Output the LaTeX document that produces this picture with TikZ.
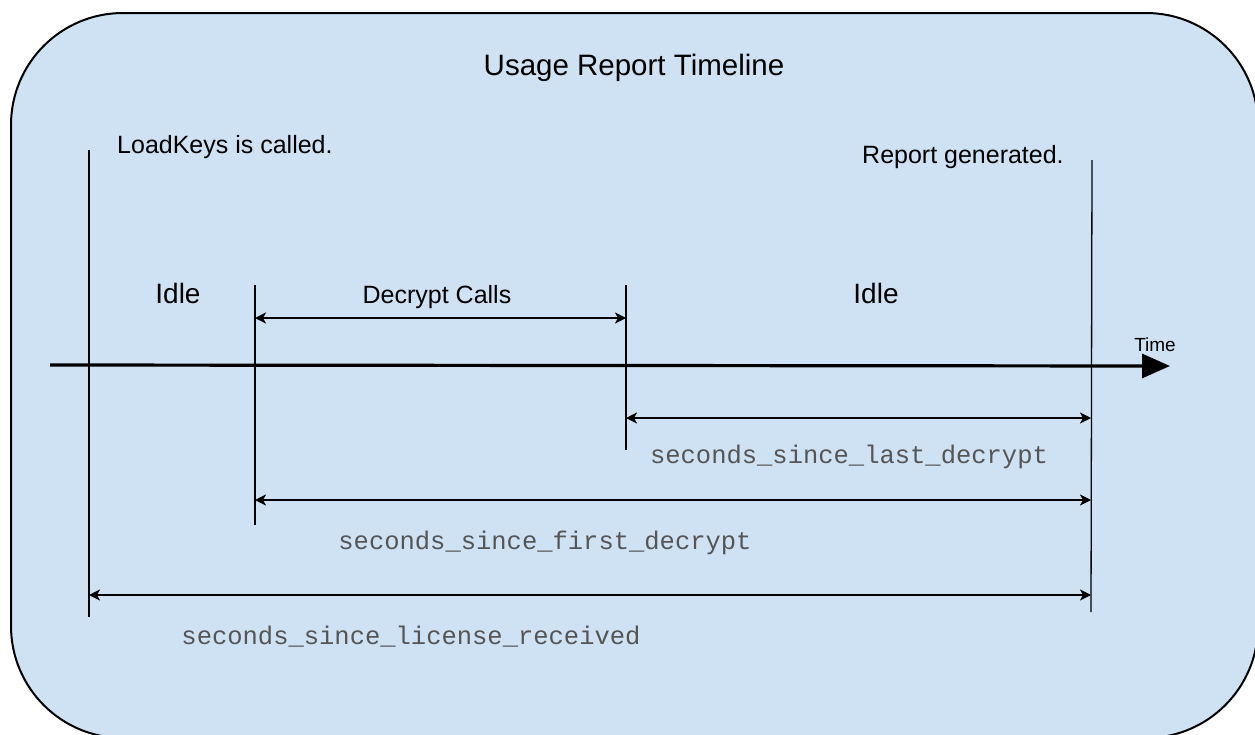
\documentclass[tikz,border=0pt]{standalone}
\usepackage{fontspec}
\setmainfont{Liberation Sans}
\setmonofont{Liberation Mono}
\usetikzlibrary{arrows.meta}
\definecolor{panelblue}{HTML}{CFE2F3}
\definecolor{labelgray}{HTML}{555555}
\tikzset{
  eventline/.style={line width=1.3pt},
  spanarrow/.style={line width=1.8pt,{Stealth[length=11pt,width=11pt,inset=3pt]}-{Stealth[length=11pt,width=11pt,inset=3pt]}},
  timeaxis/.style={line width=3.2pt,-{Triangle[length=28pt,width=24pt]}},
  evtext/.style={font=\fontsize{25}{30}\selectfont,inner sep=0pt},
  phasetext/.style={font=\fontsize{28}{32}\selectfont,inner sep=0pt},
  durtext/.style={font=\ttfamily\fontsize{25.5}{30}\selectfont,text=labelgray,inner sep=0pt}
}
\begin{document}
\begin{tikzpicture}[x=1pt,y=-1pt]
\useasboundingbox (0,0) rectangle (1255,734);
\fill[white] (0,0) rectangle (1255,734);
\draw[line width=2pt,fill=panelblue,rounded corners=112pt] (11,13) rectangle (1258,738);

\node[font=\fontsize{29.5}{34}\selectfont,inner sep=0pt] (title) at (634,68) {Usage Report Timeline};

% event lines
\coordinate (load-top) at (89,150);
\coordinate (load-bot) at (89,617);
\coordinate (first-top) at (255,285);
\coordinate (first-bot) at (255,525);
\coordinate (last-top) at (626,285);
\coordinate (last-bot) at (626,450);
\coordinate (rep-top) at (1092,160);
\coordinate (rep-bot) at (1091,612);
\draw[eventline] (load-top) -- (load-bot);
\draw[eventline] (first-top) -- (first-bot);
\draw[eventline] (last-top) -- (last-bot);
\draw[eventline] (rep-top) -- (rep-bot);

\node[evtext,anchor=west] (loadkeys) at (117,147) {LoadKeys is called.};
\node[evtext,anchor=west] (report) at (862,157) {Report generated.};
\node[phasetext] (idle1) at (178,293) {Idle};
\node[phasetext] (idle2) at (876,293) {Idle};
\node[evtext] (decrypt) at (437,297) {Decrypt Calls};

% time axis
\coordinate (axis-start) at (50,365);
\coordinate (axis-end) at (1170,366);
\draw[timeaxis] (axis-start) -- (axis-end);
\node[font=\fontsize{19}{22}\selectfont,inner sep=0pt] (time) at (1155,345) {Time};

% durations
\draw[spanarrow] (first-top |- 0,318) -- (last-top |- 0,318);
\draw[spanarrow] (last-top |- 0,418) -- (rep-bot |- 0,418);
\node[durtext] (sincelast) at (849,457) {seconds\_since\_last\_decrypt};
\draw[spanarrow] (first-top |- 0,500) -- (rep-bot |- 0,500);
\node[durtext] (sincefirst) at (545,543) {seconds\_since\_first\_decrypt};
\draw[spanarrow] (load-top |- 0,595) -- (rep-bot |- 0,595);
\node[durtext] (sincelicense) at (411,637) {seconds\_since\_license\_received};
\end{tikzpicture}
\end{document}
